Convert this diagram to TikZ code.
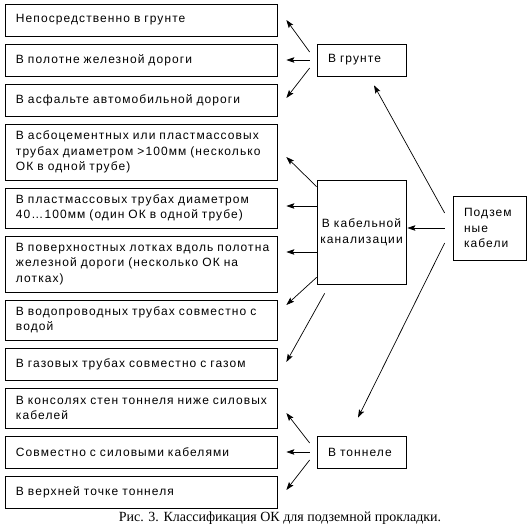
\documentclass[tikz,border=0pt]{standalone}
\usepackage{fontspec}
\setmainfont{Liberation Sans}[LetterSpace=9]
\newfontfamily\capfont{Liberation Serif}
\usetikzlibrary{arrows.meta}
\tikzset{
  lbox/.style={draw, line width=0.7pt, text width=250pt, inner xsep=11pt, inner ysep=0pt, align=left, font=\fontsize{12}{15.5}\selectfont},
  rbox/.style={draw, line width=0.7pt, inner xsep=11pt, inner ysep=0pt, align=left, font=\fontsize{12}{15.5}\selectfont},
  arr/.style={line width=0.7pt, -{Stealth[length=8pt,width=5.5pt,inset=1.5pt]}}
}
\begin{document}
\begin{tikzpicture}[x=1pt,y=-1pt]
\useasboundingbox (0,0) rectangle (529,530);
% left boxes
\node[lbox, minimum height=32pt] (b1) at (141,20) {Непосредственно в грунте};
\node[lbox, minimum height=32pt] (b2) at (141,60) {В полотне железной дороги};
\node[lbox, minimum height=32pt] (b3) at (141,100) {В асфальте автомобильной дороги};
\node[lbox, minimum height=56pt] (b4) at (141,152) {\mbox{В асбоцементных или пластмассовых}\\\mbox{трубах диаметром >100мм (несколько}\\ОК в одной трубе)};
\node[lbox, minimum height=40pt] (b5) at (141,208) {\mbox{В пластмассовых трубах диаметром}\\\mbox{40\dots100мм (один ОК в одной трубе)}};
\node[lbox, minimum height=56pt] (b6) at (141,264) {\mbox{В поверхностных лотках вдоль полотна}\\\mbox{железной дороги (несколько ОК на}\\лотках)};
\node[lbox, minimum height=40pt] (b7) at (141,320) {\mbox{В водопроводных трубах совместно с}\\водой};
\node[lbox, minimum height=32pt] (b8) at (141,364) {В газовых трубах совместно с газом};
\node[lbox, minimum height=40pt] (b9) at (141,408) {\mbox{В консолях стен тоннеля ниже силовых}\\кабелей};
\node[lbox, minimum height=32pt] (b10) at (141,452) {Совместно с силовыми кабелями};
\node[lbox, minimum height=32pt] (b11) at (141,492) {В верхней точке тоннеля};
% middle boxes
\node[rbox, text width=67pt, minimum height=32pt] (grunt) at (361.5,60) {В грунте};
\node[rbox, text width=85pt, inner xsep=2pt, align=center, minimum height=104pt] (kanal) at (361.5,232) {В кабельной\\канализации};
\node[rbox, text width=67pt, minimum height=32pt] (tunnel) at (361.5,452) {В тоннеле};
% right box
\node[rbox, text width=51pt, minimum height=64pt] (podz) at (489.5,228) {Подзем\\ные\\кабели};
% caption
\node[font=\capfont\fontsize{14}{16}\selectfont, inner sep=0pt] (cap) at (280,518) {Рис. 3. Классификация ОК для подземной прокладки.};
% arrows from grunt
\draw[arr] ([xshift=-7pt,yshift=8pt]grunt.west) -- ([xshift=9pt]b1.east);
\draw[arr] ([xshift=-7pt]grunt.west) -- ([xshift=9pt]b2.east);
\draw[arr] ([xshift=-7pt,yshift=-8pt]grunt.west) -- ([xshift=9pt,yshift=2pt]b3.east);
% arrows from kanal
\draw[arr] ([yshift=-7pt]kanal.north west) -- ([xshift=9pt,yshift=-5pt]b4.east);
\draw[arr] ([yshift=2pt]kanal.west |- b5.east) -- ([xshift=9pt,yshift=2pt]b5.east);
\draw[arr] ([yshift=12pt]kanal.west |- b6.east) -- ([xshift=9pt,yshift=12pt]b6.east);
\draw[arr] ([yshift=7pt]kanal.south west) -- ([xshift=9pt,yshift=15pt]b7.east);
\draw[arr] ([xshift=8pt,yshift=-9pt]kanal.south west) -- ([xshift=9pt,yshift=2pt]b8.east);
% arrows from podz
\draw[arr] ([xshift=-8pt,yshift=15pt]podz.west) -- ([xshift=12.5pt,yshift=-9pt]grunt.south);
\draw[arr] ([xshift=-8pt]podz.west) -- ([xshift=1pt]kanal.east |- podz.west);
\draw[arr] ([xshift=-8pt,yshift=-15pt]podz.west) -- ([xshift=-3.5pt,yshift=18pt]tunnel.north);
% arrows from tunnel
\draw[arr] ([xshift=-7pt,yshift=9pt]tunnel.west) -- ([xshift=9pt,yshift=-5pt]b9.east);
\draw[arr] ([xshift=-7pt]tunnel.west) -- ([xshift=9pt]b10.east);
\draw[arr] ([xshift=-7pt,yshift=-8pt]tunnel.west) -- ([xshift=9pt,yshift=2pt]b11.east);
\end{tikzpicture}
\end{document}
